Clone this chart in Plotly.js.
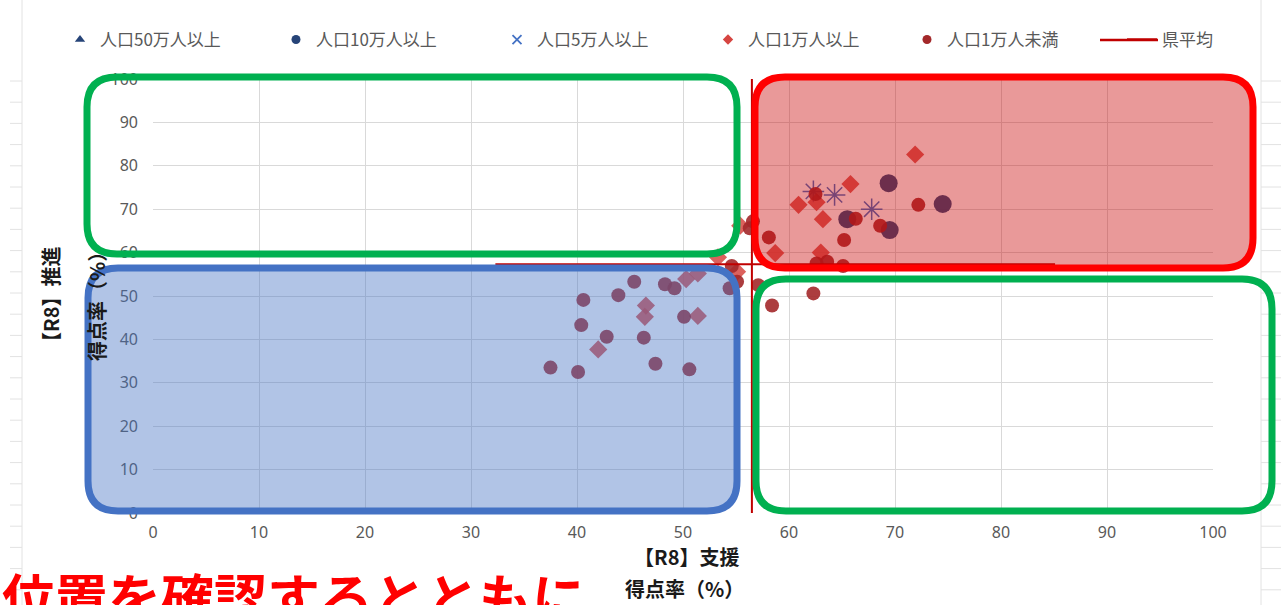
<!DOCTYPE html>
<html><head><meta charset="utf-8">
<script src="https://cdn.plot.ly/plotly-3.0.1.min.js"></script>
<style>html,body{margin:0;padding:0;background:#fff;overflow:hidden}#chart{width:1281px;height:605px}</style>
</head><body><div id="chart"></div>
<script>
// ---- data ----
const seriesNames = ['人口50万人以上', '人口10万人以上', '人口5万人以上', '人口1万人以上', '人口1万人未満', '県平均'];
const xTickVals = [0, 10, 20, 30, 40, 50, 60, 70, 80, 90, 100];
const yTickVals = [0, 10, 20, 30, 40, 50, 60, 70, 80, 90, 100];

const pop500kX = [];
const pop500kY = [];
const pop100kX = [69.4, 74.5, 65.5, 69.5];
const pop100kY = [76.0, 71.2, 67.7, 65.2];
const pop50kX = [62.3, 64.3, 67.8];
const pop50kY = [74.1, 73.3, 70.0];
const pop10kX = [46.5, 46.4, 51.4, 42.0, 50.3, 51.4, 53.3, 55.1, 55.4, 71.9, 65.8, 60.9, 62.6, 63.2, 58.7, 63.0];
const pop10kY = [47.8, 45.2, 45.4, 37.7, 53.9, 55.2, 58.9, 55.6, 66.2, 82.6, 75.8, 71.0, 71.6, 67.7, 59.9, 60.0];
const under10kX = [45.4, 40.6, 43.9, 48.3, 49.2, 40.4, 42.8, 46.3, 50.1, 37.5, 40.1, 47.4, 50.6,
                   54.6, 55.1, 57.1, 62.3, 58.4, 54.4,
                   62.5, 72.2, 66.3, 68.6, 65.2, 58.1, 63.6, 62.6, 65.1, 56.6, 56.3];
const under10kY = [53.3, 49.1, 50.2, 52.7, 51.8, 43.3, 40.6, 40.4, 45.2, 33.5, 32.5, 34.4, 33.1,
                   56.9, 53.3, 52.5, 50.6, 47.8, 51.8,
                   73.5, 71.0, 67.8, 66.2, 62.9, 63.5, 57.9, 57.5, 56.9, 67.2, 65.6];
const avgX = 56.5;
const avgY = 57.3;
const avgHLineFrom = 32.3, avgHLineTo = 85.1;

// ---- geometry helpers (pixel -> paper) ----
const PL = 153, PR = 1213, PT = 79, PB = 513;
const PW = PR - PL, PH = PB - PT;
const px2x = p => (p - PL) / PW;
const py2y = p => (PB - p) / PH;
function roundRect(x0, y0, x1, y1, r) {
  const X = px2x, Y = py2y;
  return `M${X(x0 + r)},${Y(y0)} L${X(x1 - r)},${Y(y0)} Q${X(x1)},${Y(y0)} ${X(x1)},${Y(y0 + r)} ` +
         `L${X(x1)},${Y(y1 - r)} Q${X(x1)},${Y(y1)} ${X(x1 - r)},${Y(y1)} ` +
         `L${X(x0 + r)},${Y(y1)} Q${X(x0)},${Y(y1)} ${X(x0)},${Y(y1 - r)} ` +
         `L${X(x0)},${Y(y0 + r)} Q${X(x0)},${Y(y0)} ${X(x0 + r)},${Y(y0)} Z`;
}

const navy = '#264478', lightBlue = '#4472C4', diamondRed = '#D64541', darkRed = '#A3282A', avgRed = '#C00000';

const traces = [
  {type: 'scatter', mode: 'markers', x: pop100kX, y: pop100kY, showlegend: false,
   marker: {symbol: 'circle', size: 18, color: navy, opacity: 0.95}},
  {type: 'scatter', mode: 'markers', x: pop50kX, y: pop50kY, showlegend: false,
   marker: {symbol: 'asterisk-open', size: 18, color: lightBlue, line: {color: lightBlue, width: 1.5}}},
  {type: 'scatter', mode: 'markers', x: pop10kX, y: pop10kY, showlegend: false,
   marker: {symbol: 'diamond', size: 14, color: diamondRed, opacity: 0.85}},
  {type: 'scatter', mode: 'markers', x: under10kX, y: under10kY, showlegend: false,
   marker: {symbol: 'circle', size: 14, color: darkRed, opacity: 0.9}},
  {type: 'scatter', mode: 'lines', x: [avgX, avgX, null, avgHLineFrom, avgHLineTo],
   y: [0, 100, null, avgY, avgY], showlegend: false, line: {color: avgRed, width: 2}},
  // legend entries
  {type: 'scatter', mode: 'markers', x: pop500kX.length ? pop500kX : [null], y: pop500kY.length ? pop500kY : [null],
   name: seriesNames[0], legend: 'legend', marker: {symbol: 'triangle-up', size: 9, color: navy}},
  {type: 'scatter', mode: 'markers', x: [null], y: [null], name: seriesNames[1], legend: 'legend2',
   marker: {symbol: 'circle', size: 9, color: navy}},
  {type: 'scatter', mode: 'markers', x: [null], y: [null], name: seriesNames[2], legend: 'legend3',
   marker: {symbol: 'x-thin-open', size: 9, color: lightBlue, line: {color: lightBlue, width: 1.8}}},
  {type: 'scatter', mode: 'markers', x: [null], y: [null], name: seriesNames[3], legend: 'legend4',
   marker: {symbol: 'diamond', size: 8, color: diamondRed}},
  {type: 'scatter', mode: 'markers', x: [null], y: [null], name: seriesNames[4], legend: 'legend5',
   marker: {symbol: 'circle', size: 9, color: darkRed}},
  {type: 'scatter', mode: 'lines', x: [null], y: [null], name: seriesNames[5], legend: 'legend6',
   line: {color: avgRed, width: 2.5}}
];

const legFont = {family: 'Noto Sans CJK JP', size: 17, color: '#595959'};
const legendAt = px => ({x: px2x(px), y: py2y(40), xanchor: 'left', yanchor: 'middle', orientation: 'h',
  bgcolor: 'rgba(0,0,0,0)', font: legFont});

const shapes = [];
// spreadsheet gridlines around the chart
shapes.push({type: 'line', xref: 'paper', yref: 'paper', x0: px2x(22), x1: px2x(22), y0: py2y(0), y1: py2y(605), line: {color: '#E2E2E2', width: 1}, layer: 'below'});
shapes.push({type: 'line', xref: 'paper', yref: 'paper', x0: px2x(1261), x1: px2x(1261), y0: py2y(0), y1: py2y(605), line: {color: '#E2E2E2', width: 1}, layer: 'below'});
for (let yy = 81; yy < 605; yy += 21.2) {
  shapes.push({type: 'line', xref: 'paper', yref: 'paper', x0: px2x(10), x1: px2x(22), y0: py2y(yy), y1: py2y(yy), line: {color: '#E2E2E2', width: 1}, layer: 'below'});
  shapes.push({type: 'line', xref: 'paper', yref: 'paper', x0: px2x(1261), x1: px2x(1281), y0: py2y(yy), y1: py2y(yy), line: {color: '#E2E2E2', width: 1}, layer: 'below'});
}
// legend line for 県平均 drawn to the reference's longer length
shapes.push({type: 'line', xref: 'paper', yref: 'paper', x0: px2x(1100), x1: px2x(1158), y0: py2y(40), y1: py2y(40), line: {color: avgRed, width: 2.5}});
// highlight boxes
shapes.push({type: 'path', xref: 'paper', yref: 'paper', layer: 'above', path: roundRect(87, 77, 737, 254, 30),
  line: {color: '#00B050', width: 7}, fillcolor: 'rgba(0,0,0,0)'});
shapes.push({type: 'path', xref: 'paper', yref: 'paper', layer: 'above', path: roundRect(755, 77, 1253, 268, 30),
  line: {color: '#FF0000', width: 7}, fillcolor: 'rgba(200,0,0,0.40)'});
shapes.push({type: 'path', xref: 'paper', yref: 'paper', layer: 'above', path: roundRect(88, 268, 737, 511, 30),
  line: {color: '#4472C4', width: 7}, fillcolor: 'rgba(68,114,196,0.42)'});
shapes.push({type: 'path', xref: 'paper', yref: 'paper', layer: 'above', path: roundRect(756, 279, 1272, 511, 30),
  line: {color: '#00B050', width: 7}, fillcolor: 'rgba(0,0,0,0)'});

const titleFont = {family: 'Noto Sans CJK JP', size: 20, color: '#1a1a1a', weight: 'bold'};
const annotations = [
  {text: '【R8】支援', xref: 'paper', yref: 'paper', x: px2x(686), y: py2y(556), xanchor: 'center', yanchor: 'middle', showarrow: false, font: titleFont},
  {text: '得点率（%）', xref: 'paper', yref: 'paper', x: px2x(684), y: py2y(588), xanchor: 'center', yanchor: 'middle', showarrow: false, font: titleFont},
  {text: '【R8】推進', xref: 'paper', yref: 'paper', x: px2x(50), y: py2y(300), xanchor: 'center', yanchor: 'middle', textangle: -90, showarrow: false, font: titleFont},
  {text: '得点率（%）', xref: 'paper', yref: 'paper', x: px2x(96), y: py2y(302), xanchor: 'center', yanchor: 'middle', textangle: -90, showarrow: false, font: titleFont},
  {text: '位置を確認するとともに', xref: 'paper', yref: 'paper', x: px2x(0), y: py2y(556), xanchor: 'left', yanchor: 'top', showarrow: false,
   font: {family: 'Noto Sans CJK JP', size: 53, color: '#FF0000', weight: 'bold'}}
];

const axisCommon = {range: [0, 100], tickmode: 'array', showgrid: true, gridcolor: '#D9D9D9', gridwidth: 1,
  zeroline: false, showline: false, ticks: '', fixedrange: true,
  tickfont: {family: 'Noto Sans', size: 16, color: '#595959'}};

const layout = {
  width: 1281, height: 605,
  margin: {l: PL, r: 1281 - PR, t: PT, b: 605 - PB, pad: 0},
  paper_bgcolor: '#ffffff', plot_bgcolor: '#ffffff',
  font: {family: 'Noto Sans CJK JP'},
  xaxis: Object.assign({}, axisCommon, {tickvals: xTickVals, ticktext: xTickVals.map(String), ticklabelstandoff: 8}),
  yaxis: Object.assign({}, axisCommon, {tickvals: yTickVals, ticktext: yTickVals.map(String), ticklabelstandoff: 14}),
  legend: legendAt(60), legend2: legendAt(276), legend3: legendAt(497),
  legend4: legendAt(708), legend5: legendAt(907), legend6: legendAt(1122),
  shapes: shapes,
  annotations: annotations
};

Plotly.newPlot('chart', traces, layout, {displayModeBar: false, staticPlot: true});
</script>
</body></html>
